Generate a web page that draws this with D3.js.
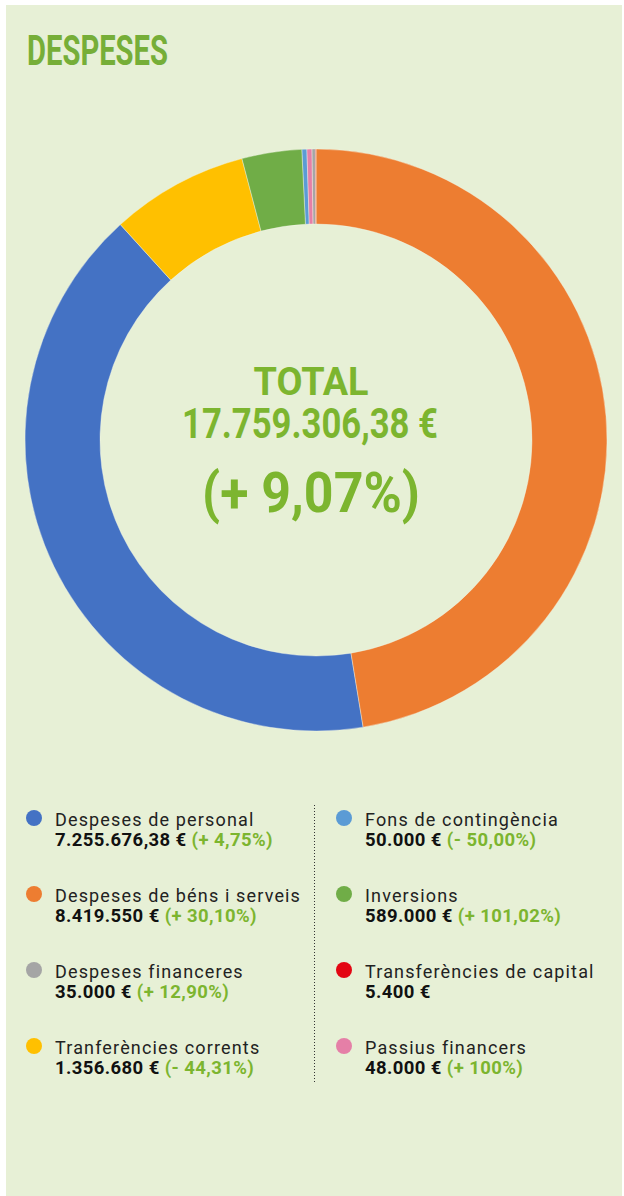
<!DOCTYPE html>
<html>
<head>
<meta charset="utf-8">
<script src="https://cdn.jsdelivr.net/npm/d3@7"></script>
<style>
  html, body { margin: 0; padding: 0; background: #fff; }
  svg { display: block; }
</style>
</head>
<body>
<div id="chart"></div>
<script>
// legend order (two columns of four)
const names = [
  "Despeses de personal", "Despeses de béns i serveis", "Despeses financeres", "Tranferències corrents",
  "Fons de contingència", "Inversions", "Transferències de capital", "Passius financers"
];
const amounts = [7255676.38, 8419550, 35000, 1356680, 50000, 589000, 5400, 48000];
const amountLabels = [
  "7.255.676,38 €", "8.419.550 €", "35.000 €", "1.356.680 €",
  "50.000 €", "589.000 €", "5.400 €", "48.000 €"
];
const changes = ["(+ 4,75%)", "(+ 30,10%)", "(+ 12,90%)", "(- 44,31%)", "(- 50,00%)", "(+ 101,02%)", "", "(+ 100%)"];
const colors = ["#4472c4", "#ed7d31", "#a5a5a5", "#ffc000", "#5b9bd5", "#70ad47", "#e30613", "#e57fa7"];
// order the slices go round the ring, clockwise from the top
const sliceOrder = [
  "Despeses de béns i serveis", "Despeses de personal", "Tranferències corrents", "Inversions",
  "Fons de contingència", "Passius financers", "Despeses financeres", "Transferències de capital"
];
const title = "DESPESES";
const totalLines = ["TOTAL", "17.759.306,38 €", "(+ 9,07%)"];

const W = 624, H = 1196;
const green = "#7cb52f";

const svg = d3.select("#chart").append("svg")
  .attr("width", W)
  .attr("height", H);

// panel
svg.append("rect")
  .attr("x", 6).attr("y", 5)
  .attr("width", W - 8).attr("height", H - 5)
  .attr("fill", "#e7f0d6");

svg.append("text")
  .attr("x", 27).attr("y", 65)
  .attr("font-family", "Roboto")
  .attr("font-weight", 700)
  .attr("font-size", 42)
  .attr("fill", "#76ae38")
  .attr("textLength", 141)
  .attr("lengthAdjust", "spacingAndGlyphs")
  .text(title);

// donut
const data = names.map((n, i) => ({ name: n, value: amounts[i], color: colors[i] }));
const pie = d3.pie()
  .value(d => d.value)
  .sort((a, b) => sliceOrder.indexOf(a.name) - sliceOrder.indexOf(b.name));
const arc = d3.arc().innerRadius(216).outerRadius(291);

const g = svg.append("g").attr("transform", "translate(316,440)");
g.selectAll("path")
  .data(pie(data))
  .join("path")
  .attr("d", arc)
  .attr("fill", d => d.data.color)
  .attr("stroke", "#f4f8ec")
  .attr("stroke-width", 0.4);

// centre text
const ct = svg.append("g").attr("font-family", "Roboto").attr("font-weight", 700).attr("fill", green)
  .attr("text-anchor", "middle");
ct.append("text").attr("x", 311).attr("y", 395).attr("font-size", 39)
  .attr("textLength", 115).attr("lengthAdjust", "spacingAndGlyphs").text(totalLines[0]);
ct.append("text").attr("x", 310).attr("y", 438).attr("font-size", 42)
  .attr("textLength", 256).attr("lengthAdjust", "spacingAndGlyphs").text(totalLines[1]);
ct.append("text").attr("x", 311).attr("y", 512).attr("font-size", 56)
  .attr("textLength", 218).attr("lengthAdjust", "spacingAndGlyphs").text(totalLines[2]);

// legend
const rowY = d3.scalePoint().domain(d3.range(4)).range([819, 1047]);
const colX = [34, 344];

const items = svg.append("g").selectAll("g")
  .data(data)
  .join("g")
  .attr("transform", (d, i) => `translate(${colX[Math.floor(i / 4)]},${rowY(i % 4)})`);

items.append("circle").attr("r", 8).attr("cy", -1).attr("fill", d => d.color);

items.append("text")
  .attr("x", 21).attr("y", 7)
  .attr("font-family", "Roboto")
  .attr("font-size", 18)
  .attr("letter-spacing", 1.15)
  .attr("fill", "#222")
  .text(d => d.name);

const val = items.append("text")
  .attr("x", 21).attr("y", 27)
  .attr("font-family", "Roboto")
  .attr("font-weight", 700)
  .attr("font-size", 18.5)
  .attr("letter-spacing", 0.4);
val.append("tspan").attr("fill", "#111").text((d, i) => amountLabels[i]);
val.append("tspan").attr("fill", green).text((d, i) => changes[i] ? " " + changes[i] : "");

// dotted divider
svg.append("line")
  .attr("x1", 314.5).attr("x2", 314.5)
  .attr("y1", 805).attr("y2", 1083)
  .attr("stroke", "#333")
  .attr("stroke-width", 1)
  .attr("stroke-dasharray", "1,2");
</script>
</body>
</html>
